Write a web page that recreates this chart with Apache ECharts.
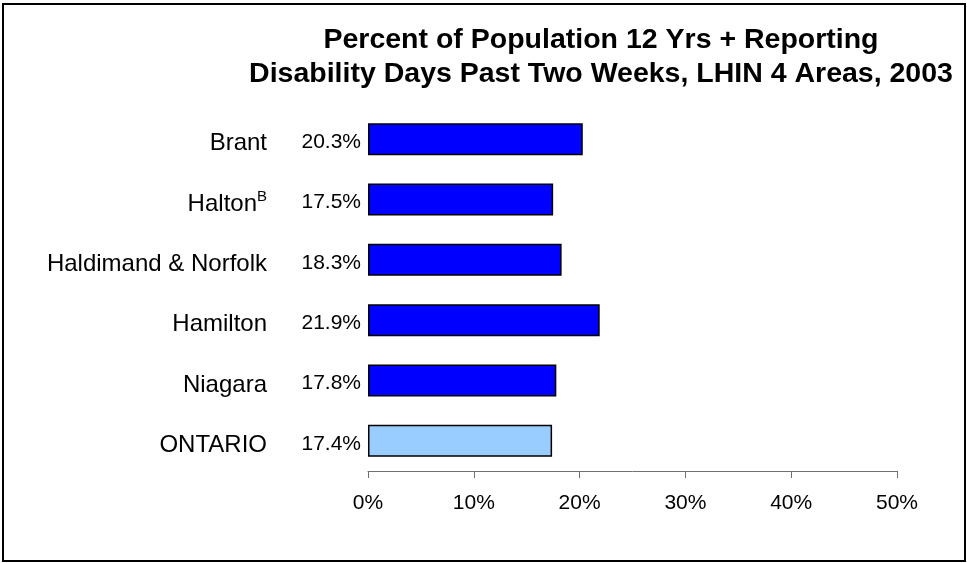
<!DOCTYPE html>
<html>
<head>
<meta charset="utf-8">
<script src="https://cdn.jsdelivr.net/npm/echarts@6/dist/echarts.min.js"></script>
<style>
html,body{margin:0;padding:0;background:#fff;}
#chart{width:967px;height:563px;}
</style>
</head>
<body>
<div id="chart"></div>
<script>
var categories = ['Brant', 'Halton{sup|B}', 'Haldimand & Norfolk', 'Hamilton', 'Niagara', 'ONTARIO'];
var values = [20.3, 17.5, 18.3, 21.9, 17.8, 17.4];
var barColors = ['#0000FF', '#0000FF', '#0000FF', '#0000FF', '#0000FF', '#99CCFF'];
var titleLines = ['Percent of Population 12 Yrs + Reporting', 'Disability Days Past Two Weeks, LHIN 4 Areas, 2003'];
var tickValues = [0, 10, 20, 30, 40, 50];

var FONT = '"Liberation Sans", Arial, sans-serif';
var chart = echarts.init(document.getElementById('chart'), null, {renderer: 'canvas'});
var option = {
  animation: false,
  backgroundColor: '#ffffff',
  title: {
    text: titleLines.join('\n'),
    left: 596,
    top: 18,
    textAlign: 'center',
    textStyle: {
      fontFamily: FONT,
      fontWeight: 'bold',
      fontSize: 28.5,
      lineHeight: 34,
      color: '#000'
    }
  },
  graphic: [{
    type: 'rect',
    shape: {x: 3, y: 4, width: 962, height: 557},
    style: {fill: 'none', stroke: '#000', lineWidth: 2},
    silent: true,
    z: 100
  }],
  grid: {left: 368, right: 70, top: 109, bottom: 92, containLabel: false},
  xAxis: {
    type: 'value',
    min: 0,
    max: 50,
    interval: 10,
    axisLine: {show: true, lineStyle: {color: '#707070', width: 1}},
    axisTick: {show: true, inside: false, length: 7, lineStyle: {color: '#707070'}},
    splitLine: {show: false},
    axisLabel: {
      margin: 22,
      fontFamily: FONT,
      fontSize: 21,
      color: '#000',
      formatter: function (v) { return tickValues.indexOf(v) >= 0 ? v + '%' : ''; }
    }
  },
  yAxis: {
    type: 'category',
    inverse: true,
    data: categories,
    axisLine: {show: false},
    axisTick: {show: false},
    axisLabel: {
      margin: 101,
      fontFamily: FONT,
      fontSize: 24,
      color: '#000',
      padding: [9, 0, 0, 0],
      rich: {
        sup: {fontFamily: FONT, fontSize: 15, color: '#000', verticalAlign: 'top', padding: [0, 0, 14, 0]}
      }
    }
  },
  series: [{
    type: 'bar',
    barWidth: 32,
    data: values.map(function (v, i) {
      return {value: v, itemStyle: {color: barColors[i]}};
    }),
    itemStyle: {borderColor: '#000', borderWidth: 1.5},
    label: {
      show: true,
      position: 'left',
      distance: 7,
      fontFamily: FONT,
      fontSize: 21,
      color: '#000',
      offset: [0, 3],
      formatter: function (p) { return p.value.toFixed(1) + '%'; }
    }
  }]
};
chart.setOption(option);
</script>
</body>
</html>
